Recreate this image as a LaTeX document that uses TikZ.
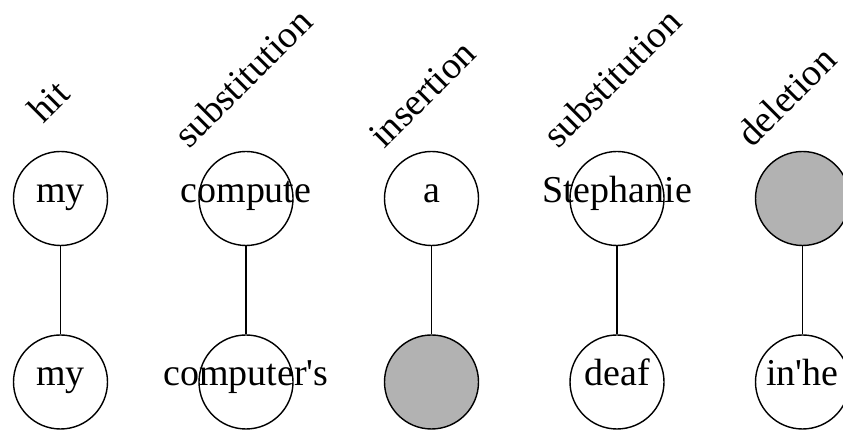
\documentclass[tikz,border=0pt]{standalone}
\usepackage{fontspec}
\setmainfont{Liberation Serif}
\usepackage{tikz}

\newcommand{\wordbox}[1]{\makebox[0pt]{#1}}

\begin{document}
\begin{tikzpicture}[scale=1,
  font=\fontsize{27}{32}\selectfont,
  word/.style={circle, draw, line width=1pt, minimum size=2.35cm, inner sep=0pt,
    text height=0.7em, text depth=0.2em},
  gap/.style={word, fill=black!30},
  op/.style={rotate=45, anchor=base west, inner sep=0pt}]
\useasboundingbox (0,0) rectangle (21.075,10.775);
\clip (0,0) rectangle (21.075,10.775);

\coordinate (A1) at (1.5125,5.8125);
\coordinate (A2) at (6.15,5.8125);
\coordinate (A3) at (10.7875,5.8125);
\coordinate (A4) at (15.425,5.8125);
\coordinate (A5) at (20.0625,5.8125);
\coordinate (B1) at (1.5125,1.225);
\coordinate (B2) at (6.15,1.225);
\coordinate (B3) at (10.7875,1.225);
\coordinate (B4) at (15.425,1.225);
\coordinate (B5) at (20.0625,1.225);

% reference words
\node [word] (ref1) at (A1) {\wordbox{my}};
\node [word] (ref2) at (A2) {\wordbox{compute}};
\node [word] (ref3) at (A3) {\wordbox{a}};
\node [word] (ref4) at (A4) {\wordbox{Stephanie}};
\node [gap] (ref5) at (A5) {};

% hypothesis words
\node [word] (hyp1) at (B1) {\wordbox{my}};
\node [word] (hyp2) at (B2) {\wordbox{computer\textquotesingle s}};
\node [gap] (hyp3) at (B3) {};
\node [word] (hyp4) at (B4) {\wordbox{deaf}};
\node [word] (hyp5) at (B5) {\wordbox{in\textquotesingle he}};

\draw [line width=1pt] (ref1) to (hyp1);
\draw [line width=1pt] (ref2) to (hyp2);
\draw [line width=1pt] (ref3) to (hyp3);
\draw [line width=1pt] (ref4) to (hyp4);
\draw [line width=1pt] (ref5) to (hyp5);

\node [op] (op1) at (1.075,7.65) {hit};
\node [op] (op2) at (4.725,7.025) {substitution};
\node [op] (op3) at (9.6,7.025) {insertion};
\node [op] (op4) at (13.95,7.025) {substitution};
\node [op] (op5) at (18.8,7.05) {deletion};

\end{tikzpicture}
\end{document}
